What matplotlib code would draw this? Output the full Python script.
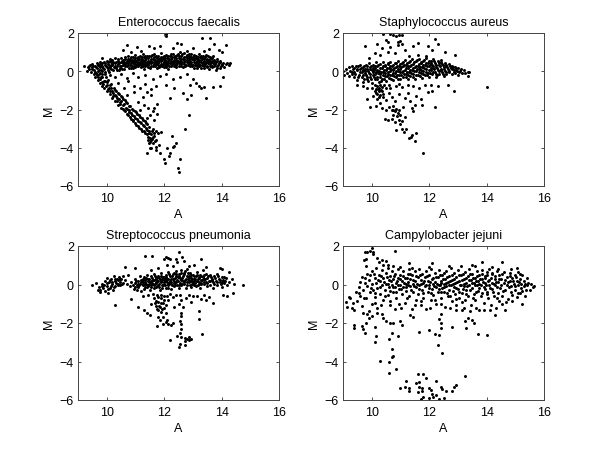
import matplotlib
matplotlib.use('Agg')
import matplotlib.pyplot as plt
import numpy as np

plt.rcParams['font.family'] = ['Liberation Sans', 'DejaVu Sans']

titles = ['Enterococcus faecalis', 'Staphylococcus aureus',
          'Streptococcus pneumonia', 'Campylobacter jejuni']

# (A, M) pairs, dense parts are approximate
ef_band = [
(9.2,0.25),(9.3,0.02),(9.35,0.2),(9.4,0.3),(9.4,0.1),(9.45,-0.05),(9.5,0.4),(9.5,0.2),(9.55,0.05),(9.6,0.3),(9.6,-0.1),(9.65,0.45),(9.65,0.15),(9.7,0.32),(9.7,0),(9.75,0.5),(9.75,0.2),(9.8,0.38),(9.8,0.08),(9.85,0.7),(9.85,0.25),(9.9,0.5),(9.9,0.12),(9.95,0.35),(9.95,-0.02),(10,0.55),(10,0.22),(10.05,0.4),(10.05,0.08),(10.1,0.65),(10.1,0.28),(10.15,0.48),(10.15,0.1),(10.2,0.58),(10.2,0.32),(10.25,0.2),(10.3,0.68),(10.3,0.42),(10.35,0.28),(10.35,0.05),(10.4,0.55),(10.4,0.36),(10.45,0.18),(10.5,0.7),(10.5,0.46),(10.5,0.25),(10.55,0.6),(10.55,0.33),(10.6,0.5),(10.6,0.12),(10.65,0.72),(10.65,0.38),(10.7,0.55),(10.7,0.25),(10.75,0.8),(10.75,0.45),(10.8,0.65),(10.8,0.33),(10.85,0.52),(10.85,0.15),(10.9,0.75),(10.9,0.42),(10.95,0.6),(10.95,0.28),(11,0.85),(11,0.5),(11,0.2),(11.05,0.68),(11.05,0.38),(11.1,0.58),(11.1,0.28),(11.15,0.8),(11.15,0.45),(11.2,0.65),(11.2,0.32),(11.25,0.9),(11.25,0.52),(11.3,0.72),(11.3,0.38),(11.3,0.12),(11.35,0.6),(11.35,0.25),(11.4,0.82),(11.4,0.45),(11.45,0.68),(11.45,0.33),(11.5,0.55),(11.5,0.18),(11.55,0.78),(11.55,0.42),(11.6,0.62),(11.6,0.28),(11.65,0.9),(11.65,0.5),(11.7,0.72),(11.7,0.36),(11.75,0.58),(11.75,0.15),(11.8,0.8),(11.8,0.45),(11.85,0.65),(11.85,0.3),(11.9,0.95),(11.9,0.52),(11.95,0.75),(11.95,0.38),(12,0.6),(12,0.22),(12.05,0.85),(12.05,0.45),(12.1,0.68),(12.1,0.32),(12.15,0.55),(12.15,0.12),(12.2,0.8),(12.2,0.42),(12.25,0.65),(12.25,0.28),(12.3,0.92),(12.3,0.5),(12.35,0.72),(12.35,0.36),(12.4,0.58),(12.4,0.2),(12.45,0.85),(12.45,0.45),(12.5,0.7),(12.5,0.3),(12.55,1.0),(12.55,0.55),(12.6,0.8),(12.6,0.4),(12.65,0.62),(12.65,0.22),(12.7,0.95),(12.7,0.5),(12.75,0.75),(12.75,0.35),(12.8,1.05),(12.8,0.58),(12.85,0.8),(12.85,0.42),(12.9,0.65),(12.9,0.25),(12.95,0.9),(12.95,0.5),(13,0.75),(13,0.35),(13.05,0.58),(13.05,0.15),(13.1,0.82),(13.1,0.42),(13.15,0.65),(13.15,0.28),(13.2,0.9),(13.2,0.5),(13.25,0.72),(13.25,0.35),(13.3,0.58),(13.3,0.18),(13.35,0.78),(13.35,0.42),(13.4,0.62),(13.4,0.25),(13.45,0.85),(13.45,0.46),(13.5,0.65),(13.5,0.3),(13.55,0.52),(13.55,0.1),(13.6,0.72),(13.6,0.38),(13.65,0.55),(13.65,0.2),(13.7,0.8),(13.7,0.42),(13.75,0.6),(13.75,0.28),(13.8,0.48),(13.8,0.08),(13.85,0.62),(13.85,0.3),(13.9,0.42),(13.95,0.55),(13.95,0.18),(14,0.32),(14.05,0.45),(14.1,0.2),(14.15,0.38),(14.2,0.45),(14.25,0.32),(14.28,0.42),
]
ef_core = [
(9.43,0.35),(9.48,0.12),(9.53,0.28),(9.58,-0.04),(9.63,0.22),(9.68,0.38),(9.73,0.07),(9.78,0.28),(9.83,0.45),(9.83,0.02),(9.88,0.18),(9.93,0.42),(9.93,-0.12),(9.98,0.3),(10.03,0.15),(10.03,0.48),(10.08,0.34),(10.08,-0.05),(10.13,0.2),(10.13,0.55),(10.18,0.4),(10.23,0.05),(10.23,0.5),(10.28,0.28),(10.33,0.5),(10.33,0.15),(10.38,0.62),(10.43,0.42),(10.43,0.08),(10.48,0.3),(10.53,0.52),(10.53,0.14),(10.58,0.42),(10.63,0.25),(10.63,0.62),(10.68,0.45),(10.73,0.35),(10.73,0.62),(10.78,0.18),(10.78,0.55),(10.83,0.42),(10.83,0.72),(10.88,0.28),(10.88,0.6),(10.93,0.5),(10.93,0.18),(10.98,0.7),(10.98,0.38),(11.03,0.55),(11.03,0.28),(11.08,0.75),(11.08,0.46),(11.13,0.36),(11.13,0.62),(11.18,0.55),(11.18,0.22),(11.23,0.72),(11.23,0.42),(11.28,0.6),(11.28,0.28),(11.33,0.46),(11.33,0.82),(11.38,0.35),(11.38,0.68),(11.43,0.55),(11.43,0.2),(11.48,0.78),(11.48,0.42),(11.53,0.62),(11.53,0.3),(11.58,0.5),(11.58,0.85),(11.63,0.38),(11.63,0.72),(11.68,0.6),(11.68,0.25),(11.73,0.46),(11.73,0.82),(11.78,0.68),(11.78,0.32),(11.83,0.55),(11.83,0.22),(11.88,0.75),(11.88,0.4),(11.93,0.62),(11.93,0.28),(11.98,0.48),(11.98,0.82),(12.03,0.68),(12.03,0.32),(12.08,0.55),(12.08,0.22),(12.13,0.78),(12.13,0.42),(12.18,0.65),(12.18,0.3),(12.23,0.52),(12.23,0.88),(12.28,0.72),(12.28,0.38),(12.33,0.6),(12.33,0.25),(12.38,0.82),(12.38,0.46),(12.43,0.68),(12.43,0.32),(12.48,0.55),(12.48,0.92),(12.53,0.78),(12.53,0.42),(12.58,0.65),(12.58,0.28),(12.63,0.5),(12.63,0.88),(12.68,0.72),(12.68,0.36),(12.73,0.6),(12.73,0.25),(12.78,0.85),(12.78,0.46),(12.83,0.68),(12.83,0.32),(12.88,0.55),(12.88,0.92),(12.93,0.75),(12.93,0.4),(12.98,0.62),(12.98,0.25),(13.03,0.48),(13.03,0.85),(13.08,0.68),(13.08,0.32),(13.13,0.55),(13.13,0.18),(13.18,0.75),(13.18,0.4),(13.23,0.6),(13.23,0.25),(13.28,0.48),(13.28,0.82),(13.33,0.68),(13.33,0.32),(13.38,0.52),(13.38,0.15),(13.43,0.72),(13.43,0.38),(13.48,0.58),(13.48,0.22),(13.53,0.42),(13.53,0.78),(13.58,0.62),(13.58,0.28),(13.63,0.46),(13.68,0.68),(13.68,0.3),(13.73,0.52),(13.78,0.36),(13.83,0.55),(13.83,0.18),(13.88,0.35),(13.93,0.46),(13.98,0.25),(14.03,0.38),
]
ef_arm = [
(9.55,-0.15),(9.6,-0.3),(9.65,-0.2),(9.7,-0.45),(9.72,-0.15),(9.78,-0.6),(9.8,-0.3),(9.85,-0.75),(9.85,-0.15),(9.9,-0.5),(9.92,-0.9),(9.97,-0.3),(10,-0.7),(10,-1.05),(10.05,-0.45),(10.08,-0.9),(10.1,-1.2),(10.15,-0.65),(10.18,-1.05),(10.2,-1.4),(10.25,-0.85),(10.28,-1.25),(10.3,-1.55),(10.33,-1.05),(10.37,-1.4),(10.4,-1.75),(10.43,-1.2),(10.47,-1.6),(10.5,-1.9),(10.52,-1.35),(10.56,-1.75),(10.6,-2.05),(10.62,-1.5),(10.66,-1.9),(10.7,-2.25),(10.72,-1.65),(10.76,-2.05),(10.8,-2.4),(10.82,-1.8),(10.86,-2.2),(10.9,-2.55),(10.92,-2),(10.96,-2.35),(11,-2.7),(11.02,-2.15),(11.06,-2.5),(11.1,-2.85),(11.12,-2.3),(11.16,-2.65),(11.2,-3),(11.22,-2.45),(11.26,-2.8),(11.3,-3.15),(11.32,-2.6),(11.36,-2.95),(11.4,-3.3),(11.42,-2.75),(11.46,-3.15),(11.5,-3.5),(11.44,-3.6),(11.52,-3.7),(11.55,-3.3),(11.58,-3.55),(11.47,-3.75),(11.6,-3),(11.62,-3.75),(11.66,-3.4),(11.7,-3.1),(11.72,-3.6),(11.78,-3.25),(11.82,-3.85),(11.88,-3.2),(11.7,-3.95),
(9.62,-0.1),(9.68,-0.32),(9.75,-0.08),(9.76,-0.42),(9.83,-0.55),(9.83,-0.28),(9.88,-0.68),(9.94,-0.5),(9.96,-0.78),(10.02,-0.58),(10.04,-0.95),(10.11,-0.72),(10.13,-1.02),(10.16,-0.88),(10.22,-1.15),(10.23,-1.3),(10.3,-0.98),(10.31,-1.3),(10.35,-1.55),(10.4,-1.12),(10.42,-1.45),(10.45,-1.72),(10.49,-1.3),(10.51,-1.55),(10.55,-1.95),(10.58,-1.45),(10.6,-1.72),(10.64,-2.1),(10.68,-1.62),(10.69,-1.95),(10.73,-2.3),(10.78,-1.82),(10.79,-2.12),(10.83,-2.48),(10.87,-1.95),(10.89,-2.3),(10.93,-2.62),(10.97,-2.1),(10.99,-2.45),(11.03,-2.8),(11.07,-2.25),(11.09,-2.58),(11.13,-2.95),(11.17,-2.4),(11.19,-2.72),(11.23,-3.1),(11.27,-2.55),(11.29,-2.88),(11.33,-3.25),(11.37,-2.7),(11.39,-3.05),(11.43,-3.42),(11.47,-2.9),(11.49,-3.25),(11.53,-3.6),(11.57,-3.1),(11.6,-3.42),(11.65,-3.22),(11.68,-3.65),
]
ef_sparse = [
(12.08,1.95),(12.05,1.86),(13.33,1.72),(13.6,1.76),(12.45,1.5),(12.6,1.44),(10.72,1.39),(13.73,1.43),(14.15,1.37),(11.05,1.25),(11.47,1.34),(11.85,1.34),(10.57,1.13),(11.2,1.05),(12.3,1.2),(13,1.2),(13.55,1.15),(13.9,1.1),(11.65,1.2),(10.85,1),(14,1),(13.4,1.05),
(10.1,-0.2),(10.3,-0.3),(10.5,-0.15),(10.7,-0.35),(10.9,-0.1),(11.1,-0.3),(11.35,-0.2),(11.6,-0.4),(11.85,-0.25),(12.05,-0.15),(12.3,-0.4),(12.55,-0.3),(12.8,-0.15),(13,-0.4),(13.2,-0.75),(13.4,-0.8),(13.7,-0.8),(13.95,-0.75),(14.05,-0.3),(13.3,-0.85),
(10.4,-0.6),(10.6,-0.9),(10.75,-0.5),(10.95,-0.75),(11.15,-0.85),(11.35,-0.65),(11.55,-0.95),(11.7,-0.75),(12.05,-0.7),(12.35,-0.9),(12.9,-0.7),(12.65,-1.15),(13.1,-0.6),
(10.7,-1.25),(10.95,-1.1),(11.1,-1.6),(11.25,-1.35),(11.4,-1.1),(11.55,-1.25),(11.3,-1.75),(11.15,-2),(11.45,-1.9),(11.6,-2.1),(11.75,-1.7),(11.65,-1.9),(11.5,-2.3),(11.75,-2.25),(11.65,-2.55),(11.4,-2.45),
(11.4,-4.3),(11.55,-4),(11.5,-4.02),(11.7,-4.1),(11.85,-4.3),(11.98,-4.6),(12.02,-4.8),(12.1,-4),(12.2,-4.3),(12.18,-4.45),(12.3,-3.95),(12.35,-3.9),(12.42,-3.75),(12.27,-3.4),(12.55,-4.6),(12.47,-5.05),(12.5,-5.27),(12.87,-2.3),(12.72,-3),(12.2,-1.4),(12.78,-1.45),(12.95,-1.25),(13.45,-1.4),
]

sa_band = [
(9,0),(9.05,-0.2),(9.1,0.1),(9.15,-0.1),(9.2,0.2),(9.2,-0.25),(9.25,0.02),(9.3,0.3),(9.3,-0.15),(9.35,0.12),(9.4,-0.3),(9.4,-0.02),(9.45,0.25),(9.5,-0.45),(9.5,0.05),(9.55,-0.18),(9.6,0.32),(9.6,0.1),(9.65,-0.3),(9.65,-0.05),(9.7,0.2),(9.7,-0.55),(9.75,0.02),(9.8,0.35),(9.8,-0.2),(9.85,0.12),(9.85,-0.42),(9.9,-0.08),(9.9,0.45),(9.95,0.22),(9.95,-0.3),(10,0.05),(10,-0.6),(10.05,0.35),(10.05,-0.18),(10.1,0.15),(10.1,-0.42),(10.15,-0.05),(10.15,0.5),(10.2,0.25),(10.2,-0.28),(10.25,0.02),(10.25,-0.55),(10.3,0.38),(10.3,-0.15),(10.35,0.15),(10.35,-0.4),(10.4,-0.02),(10.4,0.48),(10.45,0.25),(10.45,-0.25),(10.5,0.05),(10.5,-0.5),(10.55,0.38),(10.55,-0.12),(10.6,0.18),(10.6,-0.35),(10.65,0),(10.65,0.5),(10.7,0.28),(10.7,-0.22),(10.75,0.08),(10.75,-0.48),(10.8,0.42),(10.8,-0.1),(10.85,0.2),(10.85,-0.3),(10.9,0.02),(10.9,0.55),(10.95,0.3),(10.95,-0.18),(11,0.12),(11,-0.42),(11.05,0.45),(11.05,-0.05),(11.1,0.25),(11.1,-0.28),(11.15,0.05),(11.15,0.6),(11.2,0.35),(11.2,-0.15),(11.25,0.15),(11.25,-0.38),(11.3,0.5),(11.3,-0.02),(11.35,0.28),(11.35,-0.25),(11.4,0.08),(11.4,0.62),(11.45,0.4),(11.45,-0.12),(11.5,0.2),(11.5,-0.4),(11.55,0.52),(11.55,0),(11.6,0.3),(11.6,-0.22),(11.65,0.1),(11.65,0.65),(11.7,0.42),(11.7,-0.1),(11.75,0.22),(11.75,-0.35),(11.8,0.55),(11.8,0.02),(11.85,0.32),(11.85,-0.2),(11.9,0.12),(11.9,0.7),(11.95,0.45),(11.95,-0.08),(12,0.25),(12,-0.3),(12.05,0.55),(12.05,0.05),(12.1,0.35),(12.1,-0.15),(12.15,0.15),(12.15,0.62),(12.2,0.42),(12.2,-0.05),(12.25,0.22),(12.25,-0.28),(12.3,0.52),(12.3,0.05),(12.35,0.32),(12.35,-0.12),(12.4,0.12),(12.4,0.6),(12.45,0.4),(12.45,-0.05),(12.5,0.2),(12.5,-0.25),(12.55,0.45),(12.55,0.02),(12.6,0.28),(12.6,-0.12),(12.65,0.1),(12.7,0.38),(12.7,-0.05),(12.75,0.18),(12.8,0.3),(12.8,-0.15),(12.85,0.05),(12.9,0.22),(12.9,-0.1),(12.95,0.08),(13,0.15),(13,-0.18),(13.05,-0.02),(13.1,0.12),(13.15,-0.1),(13.2,0.05),(13.25,-0.08),(13.35,-0.05),(13.35,-0.25),(13.38,-0.02),
]
sa_core = [
(9.33,-0.05),(9.38,0.18),(9.43,-0.15),(9.48,0.1),(9.53,-0.3),(9.53,0.25),(9.58,-0.05),(9.63,0.18),(9.68,-0.18),(9.68,0.05),(9.73,-0.38),(9.73,0.28),(9.78,-0.08),(9.78,0.12),(9.83,-0.28),(9.83,0.25),(9.88,0),(9.88,-0.5),(9.93,0.12),(9.93,-0.15),(9.98,0.3),(9.98,-0.42),(10.03,-0.05),(10.03,0.18),(10.08,-0.28),(10.08,0.05),(10.13,0.28),(10.13,-0.15),(10.18,0.08),(10.18,-0.4),(10.23,0.35),(10.23,-0.1),(10.28,0.15),(10.28,-0.28),(10.33,-0.02),(10.33,-0.5),(10.38,0.25),(10.38,-0.18),(10.43,0.08),(10.43,-0.38),(10.48,0.32),(10.48,-0.1),(10.53,0.18),(10.53,-0.25),(10.58,-0.02),(10.58,0.42),(10.63,0.25),(10.63,-0.2),(10.68,0.1),(10.68,-0.38),(10.73,0.35),(10.73,-0.08),(10.78,0.18),(10.78,-0.25),(10.83,0.02),(10.83,0.45),(10.88,0.28),(10.88,-0.18),(10.93,0.12),(10.93,-0.38),(10.98,0.4),(10.98,-0.05),(11.03,0.2),(11.03,-0.22),(11.08,0.02),(11.08,0.5),(11.13,0.32),(11.13,-0.15),(11.18,0.15),(11.18,-0.32),(11.23,0.42),(11.23,-0.05),(11.28,0.25),(11.28,-0.2),(11.33,0.08),(11.33,0.55),(11.38,0.35),(11.38,-0.1),(11.43,0.18),(11.43,-0.3),(11.48,0.48),(11.48,0.02),(11.53,0.28),(11.53,-0.18),(11.58,0.1),(11.58,0.58),(11.63,0.4),(11.63,-0.05),(11.68,0.22),(11.68,-0.25),(11.73,0.5),(11.73,0.05),(11.78,0.32),(11.78,-0.15),(11.83,0.15),(11.83,0.6),(11.88,0.42),(11.88,-0.02),(11.93,0.25),(11.93,-0.22),(11.98,0.52),(11.98,0.05),(12.03,0.32),(12.03,-0.1),(12.08,0.15),(12.08,0.45),(12.13,0.28),(12.13,-0.02),(12.18,0.52),(12.18,0.1),(12.23,0.35),(12.23,-0.12),(12.28,0.18),(12.28,-0.2),(12.33,0.42),(12.33,0),(12.38,0.25),(12.43,0.08),(12.43,0.5),(12.48,0.32),(12.48,-0.12),(12.53,0.12),(12.58,0.35),(12.58,-0.02),(12.63,0.2),(12.68,0.02),(12.73,0.28),(12.78,0.1),(12.83,0.22),(12.88,-0.05),(12.93,0.15),(12.98,0.02),(13.08,0.02),
]
sa_sparse = [
(10.4,1.97),(10.65,1.96),(10.75,1.9),(10.85,1.85),(10.95,1.92),(11.05,1.92),(10.5,1.65),(10.55,1.55),(11,1.6),(10.9,1.55),(12.2,1.7),(12.3,1.45),(11.6,1.5),(9.75,1.33),(10.2,1.4),(10.35,1.2),(10.65,1.25),(10.9,1.35),(11.05,1.45),(11.15,1.1),(11.45,1.3),(11.95,1.3),(12.1,1.1),(12.55,1),(12.9,0.85),(10.1,0.95),(10.3,0.85),(10.55,1),(10.8,0.95),(9.9,0.7),(11.3,0.8),(11.6,0.85),(11.9,0.8),
(14,-0.8),(11.8,-4.25),(11.5,-3.65),(11.55,-3.25),(11.42,-3.35),(11.3,-3.5),(11.37,-3.45),(11.12,-3.2),(11.2,-3),(11.05,-3),(10.85,-3.05),(11,-2.75),(11.05,-2.6),(11.15,-2.4),(12.2,-1.85),
(9.5,-0.7),(9.7,-0.75),(9.85,-0.85),(10,-0.9),(10.15,-0.95),(10.25,-0.85),(10.35,-0.8),(10.5,-0.85),(10.65,-0.9),(10.85,-0.75),(11.05,-0.8),(11.25,-0.7),(11.45,-0.75),(11.65,-0.85),(11.85,-0.7),(12.05,-0.7),(12.3,-0.75),(12.65,-0.7),(12.85,-1.05),(12.1,-1.05),(11.95,-1.1),
(9.85,-1.45),(10.05,-1.3),(10.15,-1.15),(10.25,-1.05),(10.3,-1.25),(10.2,-1.45),(10.35,-1.05),(10.4,-1.35),(10.28,-1.65),(10.5,-1.5),(10.6,-1.15),(10.7,-1.35),(10.8,-1.55),(10.95,-1.2),(11.15,-1.4),(11.25,-1.15),(11.35,-1.55),(11.55,-1.3),(11.7,-1.45),(11.5,-1.75),(11.75,-1.75),(11.45,-2.1),(11.4,-1.9),
(9.95,-1.85),(10.15,-1.8),(10.35,-1.9),(10.5,-2),(10.6,-1.85),(10.7,-2.05),(10.75,-1.8),(10.85,-1.95),(10.9,-2.2),(10.75,-2.3),(10.95,-2.05),(11,-2.3),(10.7,-2.5),(10.55,-2.55),(10.8,-2.65),(10.95,-2.55),(10.45,-2.5),(11.1,-1.85),
(10.1,-0.7),(10.2,-0.75),(10.22,-0.95),(10.28,-0.7),(10.12,-1.05),(10.32,-0.98),(10.18,-1.2),(10.27,-1.35),(10.38,-1.2),(10.42,-0.7),(10.6,-0.72),(10.95,-0.65),(10.75,-2),(10.82,-2.1),(10.87,-2.35),
]

sp_band = [
(9.5,0),(9.62,0.1),(9.68,-0.3),(9.72,-0.15),(9.78,-0.4),(9.85,0.05),(9.88,-0.2),(9.95,-0.35),(9.95,0.2),(10,-0.1),(10,0.35),(10.05,-0.42),(10.08,0.12),(10.12,-0.2),(10.15,0.3),(10.18,0.02),(10.22,-0.3),(10.25,0.42),(10.28,0.18),(10.3,-0.1),(10.35,0.28),(10.38,0.05),(10.42,0.4),(10.45,0.15),(10.48,-0.05),(10.5,0.3),(10.55,0.1),(10.58,0.45),(10.62,0.25),(10.7,0.05),(10.75,0.5),(10.8,-0.1),(10.85,0.15),(10.9,0),(10.95,-0.25),
(11,0.1),(11,-0.15),(11,0.3),(11.05,-0.3),(11.05,0),(11.1,0.2),(11.1,-0.12),(11.15,0.45),(11.15,0.02),(11.2,-0.35),(11.2,0.25),(11.25,-0.05),(11.25,0.12),(11.3,0.38),(11.3,-0.22),(11.35,0.05),(11.35,0.22),(11.4,-0.12),(11.4,0.5),(11.45,0.3),(11.45,0),(11.5,0.15),(11.5,-0.3),(11.55,0.42),(11.55,-0.05),(11.6,0.22),(11.6,0.05),(11.65,-0.2),(11.65,0.55),(11.7,0.32),(11.7,0.1),(11.75,-0.08),(11.75,0.2),(11.8,0.45),(11.8,0),(11.85,0.28),(11.85,-0.3),(11.9,0.12),(11.9,0.6),(11.95,0.38),(11.95,-0.05),(12,0.22),(12,0.05),(12.05,0.5),(12.05,-0.2),(12.1,0.3),(12.1,0.12),(12.15,-0.02),(12.15,0.65),(12.2,0.42),(12.2,0.2),(12.25,0.02),(12.25,-0.25),(12.3,0.55),(12.3,0.3),(12.35,0.1),(12.35,-0.1),(12.4,0.42),(12.4,0.7),(12.45,0.22),(12.45,0),(12.5,0.55),(12.5,-0.2),(12.55,0.32),(12.55,0.1),(12.6,0.75),(12.6,-0.05),(12.65,0.45),(12.65,0.2),(12.7,0.02),(12.7,0.6),(12.75,0.3),(12.75,-0.2),(12.8,0.12),(12.8,0.8),(12.85,0.45),(12.85,0.22),(12.9,0),(12.9,0.6),(12.95,0.32),(12.95,-0.15),(13,0.15),(13,0.5),(13.05,0.28),(13.05,0),(13.1,0.42),(13.1,-0.1),(13.15,0.2),(13.15,0.65),(13.2,0.35),(13.2,0.05),(13.25,0.5),(13.25,-0.18),(13.3,0.25),(13.3,0.1),(13.35,0.4),(13.35,0.75),(13.4,0.02),(13.4,0.3),(13.45,0.55),(13.45,0.15),(13.5,-0.1),(13.5,0.35),(13.55,0.2),(13.6,0.5),(13.6,0),(13.65,0.3),(13.7,0.12),(13.7,-0.2),(13.75,0.42),(13.8,0.2),(13.85,0.55),(13.85,0),(13.9,0.3),(13.95,0.12),(14,0.4),(14,-0.15),(14.05,0.25),(14.1,0.08),(14.15,0.35),(14.2,-0.05),(14.25,0.15),(14.35,0.3),(14.45,0.05),(14.05,-0.55),(14.2,-0.6),(14.4,-0.45),(14.73,0),(14.25,0.65),(14,0.8),(13.95,0.85),
]
sp_core = [
(9.75,-0.3),(9.82,-0.1),(9.92,-0.05),(10.02,0.1),(10.05,-0.25),(10.1,0.25),(10.15,-0.1),(10.2,0.15),(10.25,-0.15),(10.3,0.3),(10.32,0.1),(10.4,0.25),(10.4,-0.05),(10.47,0.3),(10.52,0.02),
(11.03,0.18),(11.08,0.05),(11.13,-0.05),(11.18,0.12),(11.23,0.22),(11.28,0.02),(11.28,0.3),(11.33,-0.12),(11.33,0.15),(11.38,0.32),(11.38,0.05),(11.43,0.18),(11.43,-0.08),(11.48,0.28),(11.48,0.05),(11.53,-0.12),(11.53,0.18),(11.58,0.32),(11.58,0.1),(11.63,-0.03),(11.63,0.22),(11.68,0.42),(11.68,0.05),(11.73,-0.12),(11.73,0.28),(11.73,0.12),(11.78,0.38),(11.78,0.18),(11.83,0.05),(11.83,-0.15),(11.83,0.32),(11.88,0.2),(11.88,0.45),(11.93,0),(11.93,0.28),(11.93,-0.2),(11.98,0.12),(11.98,0.38),(12.03,0.28),(12.03,-0.05),(12.08,0.18),(12.08,0.4),(12.13,0.05),(12.13,0.3),(12.13,-0.18),(12.18,0.1),(12.18,0.52),(12.23,0.3),(12.23,0.12),(12.28,0.42),(12.28,-0.05),(12.33,0.2),(12.33,0.62),(12.38,0.32),(12.38,0),(12.43,0.12),(12.43,0.52),(12.48,0.38),(12.48,0.18),(12.53,-0.05),(12.53,0.45),(12.58,0.25),(12.58,0.6),(12.63,0.05),(12.63,0.35),(12.68,0.52),(12.68,0.12),(12.73,0.25),(12.73,0.7),(12.78,0.42),(12.78,-0.02),(12.83,0.3),(12.83,0.58),(12.88,0.12),(12.88,0.38),(12.93,0.5),(12.93,0.18),(12.98,0.05),(12.98,0.3),(13.03,0.42),(13.03,0.18),(13.08,0.3),(13.08,0.08),(13.13,0.5),(13.13,0.18),(13.18,0.28),(13.18,-0.05),(13.23,0.38),(13.23,0.15),(13.28,0.02),(13.28,0.45),(13.33,0.25),(13.38,0.15),(13.38,0.5),(13.43,0.3),(13.48,0.08),(13.53,0.42),(13.58,0.18),(13.63,0.38),(13.68,0.22),(13.73,0.05),(13.78,0.32),(13.83,0.12),(13.88,0.45),(13.93,0.25),(13.98,0.02),(14.03,0.15),(14.08,0.4),(14.13,0.2),
]
sp_sparse = [
(11.33,1.48),(11.58,1.48),(12.5,1.67),(12.62,1.45),(12.05,1.45),(12.15,1.4),(12,1.3),(12.2,1.3),(12.4,1.3),(13.3,1.35),(10.65,0.9),(11,0.85),(12.45,1.15),(12.7,1.2),(12.1,1),(12.3,0.95),(12.85,0.95),(13.05,1),(13.45,0.9),(11.8,0.85),(11.55,0.75),
(10.3,-1.05),(10.85,-0.75),(11.1,-1.15),(11.25,-0.6),(11.45,-0.55),(11.3,-1.3),(11.4,-1.5),(11.5,-1.6),(11.55,-1),(11.65,-0.7),(11.75,-0.55),(11.8,-0.9),(11.85,-1.15),(11.9,-0.7),(11.7,-1.1),(11.95,-0.95),(11.8,-1.35),(12,-1.2),(12,-0.6),(11.9,-1.45),(12.05,-1.5),(11.95,-1.7),(11.8,-1.7),(11.85,-1.85),(11.75,-2.15),(11.95,-2.05),(12.05,-1.95),(12.1,-1.85),(12.15,-2.05),(12.25,-2.1),(12.3,-2),(12.15,-0.8),(12.3,-0.65),(12.35,-1.15),(12.5,-1),(12.6,-0.8),(12.65,-1.15),(12.75,-0.7),(12.95,-0.9),(13.15,-0.6),(13.3,-0.75),(13.45,-0.8),(13.55,-0.65),(13.7,-0.95),(13.2,-1.4),(13.22,-1.8),(13.33,-2.55),(12.6,-1.5),(12.6,-1.65),(12.55,-1.9),(12.6,-2.05),(12.6,-2.3),(12.55,-2.5),(12.6,-2.75),(12.45,-2.7),(12.2,-2.9),(12.5,-3.25),(12.55,-3.1),(12.72,-3.15),(12.72,-2.95),(12.72,-2.8),(12.8,-2.85),(12.88,-2.75),(12.95,-2.85),(12.85,-2.9),
(11.6,-0.5),(11.72,-0.85),(11.78,-0.65),(11.68,-0.95),(11.88,-0.95),(11.92,-1.25),(11.82,-1.1),(11.75,-1.25),(11.98,-0.8),(12.05,-1.05),(11.88,-0.55),(12.1,-0.6),(12.2,-0.5),(12.42,-0.55),(12.55,-0.55),(12.85,-0.55),(13,-0.6),(13.4,-0.55),
]

cj_band = [
(9.75,1.7),(9.85,1.7),(9.95,1.72),(10,1.9),(10.05,1.7),(10.05,1.58),(9.8,1.35),(9.72,1.25),(9.8,0.95),(10.2,1.4),(10.25,1.15),(10.35,1.25),(10.4,1),(10.5,1.2),(10.55,1),(10.8,1.75),(11.3,1.1),(12.1,1.1),(13.85,1.15),(14.55,1.15),(13.5,1),(13.6,0.98),(12.7,0.95),(13.1,0.95),(11.4,0.85),(11,0.9),(10.75,0.95),(12,0.9),(14.2,0.9),(15.05,0.85),(14.85,0.8),(14.4,0.8),
(9.1,-0.9),(9.15,-1.15),(9.2,-0.65),(9.25,-0.7),(9.3,-1.2),(9.35,-0.95),(9.4,-1.35),(9.45,-0.4),(9.5,-0.85),(9.55,-0.15),(9.6,0.15),(9.6,-0.6),(9.65,0.4),(9.65,-1.1),(9.7,-0.3),(9.7,-1.5),(9.75,0.1),(9.8,-0.7),(9.85,0.55),(9.85,-0.1),(9.9,-1.4),(9.9,0.25),(9.95,-0.4),(10,0.7),(10,0.05),(10,-1),(10.05,-0.3),(10.1,0.35),(10.1,-0.65),(10.15,0.85),(10.15,0.1),(10.2,-0.2),(10.2,-1.2),(10.25,0.5),(10.3,-0.5),(10.3,0.2),(10.35,0.75),(10.35,-0.05),(10.4,-0.8),(10.4,0.35),(10.45,-0.3),(10.5,0.6),(10.5,0.05),(10.55,-0.55),(10.55,0.85),(10.6,0.25),(10.6,-0.15),(10.65,0.45),(10.65,-0.85),(10.7,0.7),(10.7,0),(10.75,-0.4),(10.75,0.3),(10.8,0.55),(10.8,-0.15),(10.85,0.1),(10.85,-0.7),(10.9,0.8),(10.9,0.35),(10.95,-0.25),(10.95,-1),(11,0.5),(11,0),(11.05,0.2),(11.05,-0.5),(11.1,0.7),(11.1,-0.15),(11.15,0.35),(11.15,-0.95),(11.2,0.05),(11.2,-0.35),(11.25,0.55),(11.25,0.15),(11.3,-0.6),(11.3,0.8),(11.35,0.3),(11.35,-0.1),(11.4,-1.25),(11.4,0.5),(11.45,0.05),(11.45,-0.4),(11.5,0.7),(11.5,0.2),(11.55,-0.8),(11.55,-0.15),(11.6,0.4),(11.6,-0.5),(11.65,0),(11.65,0.8),(11.7,0.25),(11.7,-1.05),(11.75,-0.3),(11.75,0.55),(11.8,0.1),(11.8,-0.7),(11.85,0.4),(11.85,-0.1),(11.9,-1.25),(11.9,0.7),(11.95,0.2),(11.95,-0.4),(12,0.5),(12,-0.05),(12.05,-0.8),(12.05,0.8),(12.1,0.3),(12.1,-0.25),(12.15,0.05),(12.15,-0.55),(12.2,0.6),(12.2,0.15),(12.25,-0.15),(12.25,-1),(12.3,0.4),(12.3,-0.4),(12.35,0),(12.35,0.75),(12.4,0.2),(12.4,-0.7),(12.45,-0.2),(12.45,0.5),(12.5,0.05),(12.5,-0.4),(12.55,0.3),(12.55,-1.15),(12.6,0.7),(12.6,-0.1),(12.65,0.15),(12.65,-0.6),(12.7,0.45),(12.7,-0.3),(12.75,0),(12.75,0.85),(12.8,0.25),(12.8,-0.85),(12.85,-0.15),(12.85,0.6),(12.9,0.1),(12.9,-0.5),(12.95,0.4),(12.95,-1.05),(13,-0.25),(13,0.75),(13.05,0.2),(13.05,-0.7),(13.1,0),(13.1,0.5),(13.15,-0.45),(13.15,-1.3),(13.2,0.3),(13.2,-0.1),(13.25,0.65),(13.25,-0.8),(13.3,0.1),(13.3,-0.3),(13.35,0.45),(13.35,-0.6),(13.4,0),(13.4,0.8),(13.45,0.25),(13.45,-1.05),(13.5,-0.2),(13.5,0.55),(13.55,0.1),(13.55,-0.5),(13.6,0.35),(13.6,-0.8),(13.65,-0.05),(13.65,0.7),(13.7,0.2),(13.7,-0.35),(13.75,0.5),(13.75,-1.3),(13.8,0),(13.8,-0.6),(13.85,0.3),(13.85,0.75),(13.9,-0.15),(13.9,-0.95),(13.95,0.45),(13.95,0.1),(14,-0.4),(14,0.65),(14.05,0.2),(14.05,-0.7),(14.1,-0.05),(14.1,0.8),(14.15,0.35),(14.15,-1.05),(14.2,-0.25),(14.2,0.55),(14.25,0.05),(14.25,-0.6),(14.3,0.3),(14.3,-1.6),(14.35,-0.15),(14.35,0.7),(14.4,0.15),(14.4,-0.45),(14.45,0.5),(14.45,-0.85),(14.5,-0.05),(14.5,0.3),(14.55,-0.6),(14.6,0.65),(14.6,0.1),(14.65,-0.3),(14.65,-1.3),(14.7,0.4),(14.7,-0.05),(14.75,-0.75),(14.8,0.2),(14.8,0.6),(14.85,-0.4),(14.85,-0.1),(14.9,0.35),(14.9,-0.85),(14.95,0.05),(15,0.5),(15,-0.3),(15.05,0.2),(15.05,-0.65),(15.1,-0.05),(15.1,0.65),(15.15,0.3),(15.15,-0.45),(15.2,0.05),(15.2,-0.2),(15.25,0.5),(15.25,-1),(15.3,-0.1),(15.3,0.2),(15.35,-0.6),(15.4,0.35),(15.4,-0.05),(15.45,0.1),(15.5,-0.3),(15.55,0.05),(15.6,-0.15),(15.65,-0.1),
]
cj_core = [
(9.57,-0.42),(9.72,-0.72),(9.78,0.32),(9.93,0.48),(9.98,-0.18),(10.07,0.55),(10.13,-0.42),(10.23,0.25),(10.28,-0.12),(10.33,0.45),(10.43,0.12),(10.47,-0.6),(10.52,0.38),(10.58,0.05),(10.63,-0.32),(10.67,0.2),(10.73,-0.12),(10.78,0.42),(10.83,-0.4),(10.88,0.18),(10.93,-0.02),(10.98,0.28),(11.03,-0.22),(11.08,0.42),(11.13,0.1),(11.18,-0.15),(11.23,0.35),(11.28,-0.02),(11.33,0.55),(11.38,-0.3),(11.43,0.22),(11.48,-0.08),(11.53,0.42),(11.58,0.05),(11.63,-0.25),(11.68,0.5),(11.73,0.05),(11.78,-0.42),(11.83,0.2),(11.88,-0.02),(11.93,0.45),(11.98,-0.2),(12.03,0.12),(12.08,-0.42),(12.13,0.32),(12.18,-0.1),(12.23,0.4),(12.28,0.05),(12.33,-0.25),(12.38,0.5),(12.38,-0.05),(12.43,0.1),(12.43,-0.38),(12.48,0.3),(12.53,-0.12),(12.53,0.6),(12.58,0.1),(12.63,-0.42),(12.63,0.4),(12.68,-0.05),(12.73,0.2),(12.73,-0.6),(12.78,0.5),(12.83,0.05),(12.83,-0.35),(12.88,0.3),(12.93,-0.18),(12.93,-0.75),(12.98,0.12),(13.03,0.5),(13.03,-0.4),(13.08,-0.05),(13.13,0.22),(13.13,-0.9),(13.18,0.55),(13.18,-0.22),(13.23,0.05),(13.28,0.35),(13.28,-0.5),(13.33,-0.1),(13.38,0.22),(13.43,0.55),(13.43,-0.3),(13.48,0.08),(13.53,-0.7),(13.53,0.35),(13.58,-0.05),(13.63,0.2),(13.63,-0.4),(13.68,0.45),(13.73,0.05),(13.73,-0.18),(13.78,0.3),(13.83,-0.42),(13.83,0.55),(13.88,0.12),(13.93,-0.25),(13.93,0.32),(13.98,0),(14.03,0.48),(14.03,-0.5),(14.08,0.22),(14.13,-0.2),(14.18,0.1),(14.18,0.6),(14.23,-0.4),(14.28,0.42),(14.28,-0.05),(14.33,0.15),(14.38,-0.7),(14.43,0.3),(14.48,-0.2),(14.53,0.55),(14.58,-0.35),(14.63,0.25),(14.68,-0.9),(14.73,0.12),(14.78,-0.15),(14.83,0.45),(14.88,-0.55),(14.93,0.2),(14.98,-0.1),(15.03,0.4),(15.08,-0.45),(15.13,0.12),(15.18,0.55),(15.23,-0.35),(15.33,0.05),(15.38,-0.3),
(10.12,-0.95),(10.32,-1.05),(10.62,-1.05),(10.82,-1.25),(11.02,-1.2),(11.22,-0.72),(11.52,-1.05),(11.72,-0.85),(12.02,-1.2),(12.22,-0.78),(12.42,-1),(12.72,-1.2),(12.92,-1.3),(13.22,-1.2),(13.42,-1.4),(13.62,-1.2),(13.92,-1.3),(14.12,-1.3),(14.32,-1.2),(14.52,-1),
]
cj_sparse = [
(9.4,-2.1),(9.4,-2.25),(9.65,-2.15),(9.7,-2.3),(9.75,-2.5),(9.8,-2),(9.9,-1.75),(10,-1.65),(9.85,-1.55),(10.2,-1.5),(10.35,-1.55),(10.4,-1.75),(10.5,-1.9),(10.75,-2),(10.62,-2),(10.12,-2.2),(10.15,-2.65),(10.1,-3),(10.7,-2.5),(10.6,-2.85),(10.9,-2.7),(11,-1.9),(11.05,-2.1),(11.35,-1.6),(11.45,-1.7),(11.65,-2.45),(12,-2.35),(12.2,-2.55),(12.35,-2.6),(12.4,-2.25),(12.4,-2),(12.35,-1.8),(12.4,-1.55),(12.8,-2.2),(13.25,-1.9),(13.3,-2.25),(13.35,-1.75),(13.5,-1.85),(13.55,-2),(13.7,-2.55),(14,-2.6),(12.3,-3.15),(12.45,-3.55),
(10.7,-3.35),(10.75,-3.7),(10.7,-3.75),(10.6,-4),(10.3,-3.95),(10.85,-4.4),(10.6,-4.6),
(11,-5.4),(11.15,-5.3),(11.2,-5),(11.3,-5.4),(11.3,-5.55),(11.55,-5.1),(11.6,-4.65),(11.65,-5.05),(11.65,-5.35),(11.75,-5.4),(11.6,-5.6),(11.8,-4.65),(11.75,-5.55),(11.8,-5.85),(11.7,-5.95),(11.9,-4.85),(12,-5.4),(12.05,-5.5),(12.1,-5.7),(12,-5.9),(12.15,-5.85),(12.25,-5),(12.25,-5.75),(12.4,-5.3),(12.45,-5.45),(12.35,-5.95),(12.5,-5.9),(12.6,-5.55),(12.8,-5.55),(12.85,-5.35),(12.95,-5.2),(13.25,-4.75),
]

panels = [ef_band + ef_core + ef_arm + ef_sparse, sa_band + sa_core + sa_sparse,
          sp_band + sp_core + sp_sparse, cj_band + cj_core + cj_sparse]

fig = plt.figure(figsize=(6, 4.52), dpi=100)
W, H = 600., 452.
boxes = [(78, 34, 279, 187), (343, 34, 544, 187),
         (78, 247, 279, 401), (343, 247, 544, 401)]

for pts, title, b in zip(panels, titles, boxes):
    ax = fig.add_axes([b[0]/W, 1-b[3]/H, (b[2]-b[0])/W, (b[3]-b[1])/H])
    p = np.array(pts)
    ax.plot(p[:, 0], p[:, 1], '.', color='black', markersize=4.3, markeredgewidth=0)
    ax.set_xlim(9, 16)
    ax.set_ylim(-6, 2)
    ax.set_xticks([10, 12, 14, 16])
    ax.set_yticks([-6, -4, -2, 0, 2])
    ax.tick_params(direction='in', top=True, right=True, length=2, width=0.6,
                   labelsize=9, color='#333333', pad=4.5)
    ax.tick_params(axis='y', pad=3)
    for s in ax.spines.values():
        s.set_linewidth(0.7)
        s.set_color('#444444')
    ax.set_title(title, fontsize=9, pad=6)
    ax.set_xlabel('A', fontsize=9, labelpad=2.5)
    ax.set_ylabel('M', fontsize=9, labelpad=3)

fig.savefig('out.png', dpi=100)
